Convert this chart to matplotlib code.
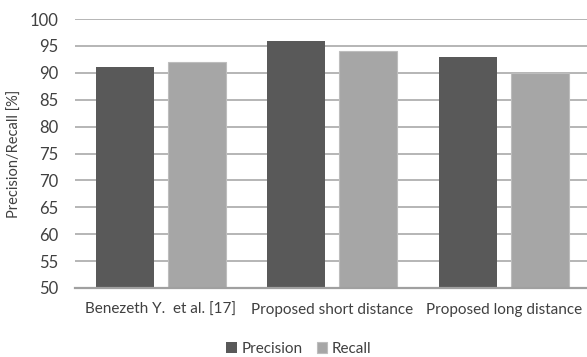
import matplotlib.pyplot as plt
import numpy as np

plt.rcParams['font.family'] = ['Lato', 'DejaVu Sans']

methods = ["Benezeth Y.  et al. [17]", "Proposed short distance", "Proposed long distance"]
precision = [91, 96, 93]
recall = [92, 94, 90]
yticks = list(range(50, 101, 5))

fig = plt.figure(figsize=(5.87, 3.57), dpi=100)
ax = fig.add_axes([75 / 587, 69 / 357, 514.5 / 587, 269 / 357])

x = np.arange(len(methods))
w = 0.34
off = 0.21
ax.bar(x - off, np.array(precision) - 50, w, bottom=50, color="#595959",
       label="Precision", zorder=3)
ax.bar(x + off, np.array(recall) - 50, w, bottom=50, color="#A6A6A6",
       edgecolor="#BDBDBD", linewidth=0.8, label="Recall", zorder=3)

ax.set_xlim(-0.5, 2.5)
ax.set_ylim(50, 100)
ax.set_yticks(yticks)
ax.set_xticks(x)
ax.set_xticklabels(methods, fontsize=11, color="#404040")
ax.tick_params(axis="y", labelsize=12, colors="#404040", length=0, pad=12)
ax.tick_params(axis="x", length=0, pad=11)
ax.grid(axis="y", color="#B0B0B0", linewidth=1.3, zorder=0)
for s in ["top", "right", "left"]:
    ax.spines[s].set_visible(False)
ax.spines["bottom"].set_color("#A0A0A0")
ax.spines["bottom"].set_linewidth(1.6)
ax.spines["bottom"].set_zorder(4)

fig.text(15 / 587, 1 - 154 / 357, "Precision/Recall [%]", rotation=90,
         ha="center", va="center", fontsize=10.5, color="#404040")

fig.legend(loc="center", bbox_to_anchor=(299 / 587, 1 - 349 / 357), ncol=2,
           frameon=False, fontsize=11, handlelength=0.7, handleheight=0.7,
           handletextpad=0.3, columnspacing=0.9, labelcolor="#404040")

fig.savefig("out.png", dpi=100)
